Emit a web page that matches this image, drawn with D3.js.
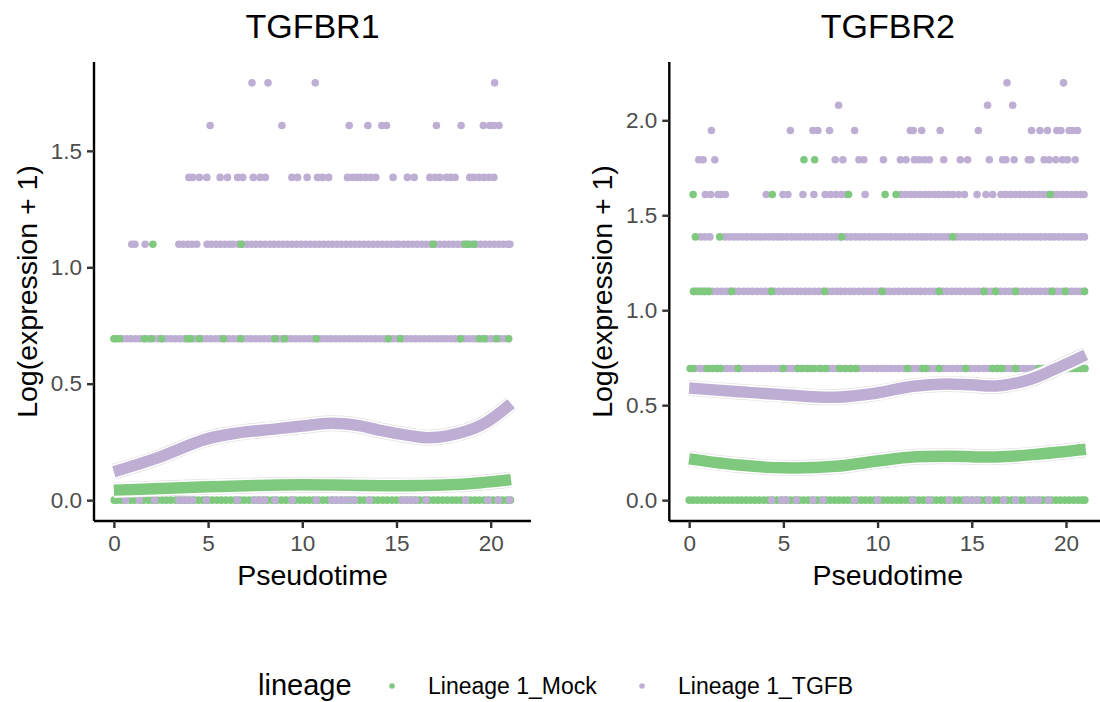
<!DOCTYPE html>
<html><head><meta charset="utf-8">
<script src="https://cdn.jsdelivr.net/npm/d3@7"></script>
<style>body{margin:0;background:#fff}svg{display:block}text{font-family:'Liberation Sans',Arial,Helvetica,sans-serif}</style>
</head><body><svg id="c" width="1100" height="702"></svg>
<script>
// ---- data ----
const genes = ["TGFBR1", "TGFBR2"];
const lineages = ["Lineage 1_Mock", "Lineage 1_TGFB"];
const levels = [0, 0.693, 1.099, 1.386, 1.609, 1.792, 1.946, 2.079, 2.197];
const xTicks = [0, 5, 10, 15, 20];
const yTicks1 = [0, 0.5, 1.0, 1.5];
const yTicks2 = [0, 0.5, 1.0, 1.5, 2.0];

// TGFBR1 cells (pseudotime by expression level)
const r1MockL0 = [0.02,0.18,0.41,0.63,0.88,1.1,1.37,1.58,1.84,2.05,2.31,2.56,2.79,3.02,3.28,3.51,3.77,4.0,4.26,4.49,4.73,4.98,5.22,5.47,5.71,5.95,6.2,6.44,6.69,6.93,7.18,7.42,7.67,7.91,8.15,8.4,8.64,8.89,9.13,9.38,9.62,9.87,10.11,10.36,10.6,10.85,11.09,11.33,11.58,11.82,12.07,12.31,12.56,12.8,13.05,13.29,13.54,13.78,14.02,14.27,14.51,14.76,15.0,15.25,15.49,15.74,15.98,16.22,16.47,16.71,16.96,17.2,17.45,17.69,17.94,18.18,18.42,18.67,18.91,19.16,19.4,19.65,19.89,20.14,20.38,20.62,20.85,21.05];
const r1TgfbL0 = [0.62,1.35,2.17,3.45,3.68,3.92,4.17,4.9,6.55,7.46,7.72,8.0,8.55,9.46,10.74,11.56,11.8,12.08,12.4,12.74,13.56,15.3,15.55,15.8,16.02,16.57,18.67,19.85,20.4,21.0];
const r1TgfbL1 = [0.45,0.68,0.9,1.15,1.38,1.62,1.85,2.1,2.33,2.57,2.8,3.04,3.27,3.51,3.75,3.98,4.22,4.45,4.69,4.92,5.16,5.4,5.63,5.87,6.1,6.34,6.57,6.81,7.05,7.28,7.52,7.75,7.99,8.22,8.46,8.7,8.93,9.17,9.4,9.64,9.87,10.11,10.35,10.58,10.82,11.05,11.29,11.52,11.76,12.0,12.23,12.47,12.7,12.94,13.17,13.41,13.65,13.88,14.12,14.35,14.59,14.82,15.06,15.3,15.53,15.77,16.0,16.24,16.47,16.71,16.95,17.18,17.42,17.65,17.89,18.12,18.36,18.6,18.83,19.07,19.3,19.54,19.77,20.01,20.25,20.48,20.72,20.95];
const r1MockL1 = [0.0,0.12,0.3,1.62,1.99,2.53,3.9,4.08,4.54,5.82,6.73,8.55,9.06,10.74,14.57,15.2,18.4,19.4,19.67,20.31,20.95];
const r1TgfbL2 = [0.95,1.12,1.66,3.45,3.68,3.92,4.15,4.4,4.95,5.18,5.42,5.65,5.88,6.12,6.32,6.6,6.84,7.06,7.3,7.54,7.78,8.02,8.28,8.5,8.74,8.98,9.22,9.46,9.7,9.94,10.18,10.42,10.66,10.9,11.14,11.38,11.6,11.84,12.08,12.32,12.56,12.8,13.04,13.28,13.52,13.76,14.0,14.24,14.48,14.72,14.96,15.12,15.38,15.62,15.86,16.1,16.34,16.58,16.82,17.06,17.3,17.54,17.78,18.02,18.26,18.5,18.74,18.98,19.22,19.46,19.7,19.94,20.18,20.42,20.66,20.9,21.02];
const r1MockL2 = [2.07,6.75,16.94,18.64,18.81,19.11];
const r1TgfbL3 = [3.98,4.19,4.54,4.93,5.64,6.03,6.57,6.84,7.4,7.76,8.04,9.45,9.75,10.26,10.81,11.08,11.4,12.4,12.67,12.9,13.11,13.37,13.64,13.9,14.82,15.58,15.94,16.77,17.05,17.3,17.65,17.88,18.11,18.89,19.11,19.38,19.65,19.91,20.17];
const r1TgfbL4 = [5.11,8.92,12.49,13.48,14.22,14.47,17.12,18.43,19.61,19.95,20.15,20.44];
const r1TgfbL5 = [7.33,8.18,10.69,20.21];

// TGFBR2 cells
const r2MockL0 = [0.0,0.21,0.44,0.68,0.9,1.14,1.37,1.61,1.84,2.08,2.31,2.55,2.78,3.02,3.25,3.49,3.72,3.96,4.19,4.43,4.66,4.9,5.13,5.37,5.6,5.84,6.07,6.31,6.54,6.78,7.01,7.25,7.48,7.72,7.95,8.19,8.42,8.66,8.89,9.13,9.36,9.6,9.83,10.07,10.3,10.54,10.77,11.01,11.24,11.48,11.71,11.95,12.18,12.42,12.65,12.89,13.12,13.36,13.59,13.83,14.06,14.3,14.53,14.77,15.0,15.24,15.47,15.71,15.94,16.18,16.41,16.65,16.88,17.12,17.35,17.59,17.82,18.06,18.29,18.53,18.76,19.0,19.23,19.47,19.7,19.94,20.17,20.41,20.64,20.85,21.0];
const r2TgfbL0 = [4.37,4.9,5.15,5.69,6.57,7.1,8.78,10.0,11.86,12.74,13.8,14.68,15.0,15.3,15.9,16.7,17.32,18.03,18.3,18.55,19.08];
const r2TgfbL1 = [0.3,0.55,0.78,1.02,1.25,1.49,1.72,1.96,2.2,2.43,2.67,2.9,3.14,3.37,3.61,3.85,4.08,4.32,4.55,4.79,5.02,5.26,5.5,5.73,5.97,6.2,6.44,6.67,6.91,7.15,7.38,7.62,7.85,8.09,8.32,8.56,8.8,9.03,9.27,9.5,9.74,9.97,10.21,10.45,10.68,10.92,11.15,11.39,11.62,11.86,12.1,12.33,12.57,12.8,13.04,13.27,13.51,13.75,13.98,14.22,14.45,14.69,14.92,15.16,15.4,15.63,15.87,16.1,16.34,16.57,16.81,17.05,17.28,17.52,17.75,17.99,18.22,18.46,18.7,18.93,19.17,19.4,19.64,19.87,20.11,20.35,20.58,20.82,21.0];
const r2MockL1 = [0.05,0.2,0.95,1.2,1.45,1.65,2.6,4.99,5.78,6.0,6.3,6.6,6.95,7.25,7.98,8.3,8.55,8.86,11.6,12.4,12.56,13.27,14.68,16.1,16.35,16.6,17.32,18.55,18.8,19.05,19.3,19.55,19.8,20.05,20.3,20.55,20.8,21.0];
const r2TgfbL2 = [0.3,0.54,0.77,1.01,1.24,1.48,1.71,1.95,2.18,2.42,2.65,2.89,3.12,3.36,3.59,3.83,4.06,4.3,4.53,4.77,5.0,5.24,5.47,5.71,5.94,6.18,6.41,6.65,6.88,7.12,7.35,7.59,7.82,8.06,8.29,8.53,8.76,9.0,9.23,9.47,9.7,9.94,10.17,10.41,10.64,10.88,11.11,11.35,11.58,11.82,12.05,12.29,12.52,12.76,12.99,13.23,13.46,13.7,13.93,14.17,14.4,14.64,14.87,15.11,15.34,15.58,15.81,16.05,16.28,16.52,16.75,16.99,17.22,17.46,17.69,17.93,18.16,18.4,18.63,18.87,19.1,19.34,19.57,19.81,20.04,20.28,20.51,20.75,20.98];
const r2MockL2 = [0.23,0.42,0.62,0.85,1.05,2.26,4.37,7.19,10.24,13.27,15.65,16.26,17.32,19.26,19.96,20.98];
const r2TgfbL3 = [0.62,0.85,1.1,1.9,2.13,2.37,2.6,2.84,3.07,3.31,3.54,3.78,4.01,4.25,4.48,4.72,4.95,5.19,5.42,5.66,5.89,6.13,6.36,6.6,6.83,7.07,7.3,7.54,7.77,8.01,8.36,8.6,8.83,9.07,9.3,9.54,9.77,10.01,10.24,10.48,10.71,10.95,11.18,11.42,11.65,11.89,12.12,12.36,12.59,12.83,13.06,13.3,13.53,13.77,14.2,14.44,14.67,14.91,15.14,15.38,15.61,15.85,16.08,16.32,16.55,16.79,17.02,17.26,17.49,17.73,17.96,18.2,18.43,18.67,18.9,19.14,19.37,19.61,19.84,20.08,20.31,20.55,20.78,20.98];
const r2MockL3 = [0.33,1.62,8.1,13.99];
const r2TgfbL4 = [0.86,1.14,1.53,1.71,1.92,4.09,4.98,5.24,6.04,6.62,7.22,7.5,7.78,8.07,8.34,9.34,11.25,11.5,11.75,12.0,12.25,12.5,12.75,13.0,13.25,13.5,13.75,14.0,14.3,14.61,15.28,15.75,16.11,16.55,16.8,17.05,17.3,17.55,17.8,18.05,18.3,18.55,18.8,19.05,19.3,19.55,19.8,20.05,20.3,20.55,20.8,20.96];
const r2MockL4 = [0.21,4.41,8.46,10.4,10.98,19.16];
const r2TgfbL5 = [0.51,0.74,1.36,7.75,8.16,9.01,9.27,10.31,11.21,11.51,11.96,12.22,12.49,12.75,13.51,14.39,14.78,15.93,16.64,16.81,17.25,18.0,18.14,18.84,19.11,19.46,19.82,20.08,20.49];
const r2MockL5 = [6.09,6.66];
const r2TgfbL6 = [1.18,5.37,6.57,6.83,7.45,8.78,11.74,11.89,12.34,13.32,15.35,18.17,18.62,19.02,19.52,19.73,20.17,20.35,20.61];
const r2TgfbL7 = [7.93,15.84,17.17];
const r2TgfbL8 = [16.87,19.87];

// fitted smoothers [pseudotime, log(expression+1)]
const r1MockSmooth = [[0,0.043],[2.5,0.05],[5,0.057],[7.5,0.063],[10,0.066],[12.5,0.064],[15,0.062],[17.5,0.065],[19.5,0.075],[21.08,0.088]];
const r1TgfbSmooth = [[0,0.122],[2.2,0.178],[4.9,0.262],[6.7,0.29],[8.5,0.305],[10,0.318],[11.5,0.33],[13,0.32],[14,0.302],[15.8,0.276],[16.6,0.268],[17.7,0.276],[19.5,0.322],[21.08,0.415]];
const r2MockSmooth = [[0,0.217],[2.5,0.186],[5,0.17],[7.8,0.178],[9.9,0.205],[12,0.228],[14,0.231],[16.3,0.227],[18.5,0.242],[21.05,0.268]];
const r2TgfbSmooth = [[0,0.59],[2.5,0.572],[5,0.555],[7.8,0.542],[9.9,0.563],[11.9,0.6],[13.6,0.612],[15,0.607],[16.3,0.601],[18,0.633],[19.3,0.685],[21.05,0.765]];

// ---- drawing ----
const colors = {"Lineage 1_Mock": "#7FC97F", "Lineage 1_TGFB": "#BEAED4"};
const M = lineages[0], T = lineages[1];
const panels = [
  { gene: genes[0], x0: 94, x1: 531, yMax: 1.792, yTicks: yTicks1,
    layers: [[M,0,r1MockL0],[T,0,r1TgfbL0],[T,1,r1TgfbL1],[M,1,r1MockL1],[T,2,r1TgfbL2],[M,2,r1MockL2],[T,3,r1TgfbL3],[T,4,r1TgfbL4],[T,5,r1TgfbL5]],
    smooth: [[M,r1MockSmooth],[T,r1TgfbSmooth]] },
  { gene: genes[1], x0: 669.3, x1: 1106.3, yMax: 2.197, yTicks: yTicks2,
    layers: [[M,0,r2MockL0],[T,0,r2TgfbL0],[T,1,r2TgfbL1],[M,1,r2MockL1],[T,2,r2TgfbL2],[M,2,r2MockL2],[T,3,r2TgfbL3],[M,3,r2MockL3],[T,4,r2TgfbL4],[M,4,r2MockL4],[T,5,r2TgfbL5],[M,5,r2MockL5],[T,6,r2TgfbL6],[T,7,r2TgfbL7],[T,8,r2TgfbL8]],
    smooth: [[M,r2MockSmooth],[T,r2TgfbSmooth]] }
];

const svg = d3.select("#c");
const yTop = 62, yBot = 521;
const xDomain = [-1.055, 22.14];

panels.forEach(p => {
  const x = d3.scaleLinear().domain(xDomain).range([p.x0, p.x1]);
  const pad = p.yMax * 0.05;
  const y = d3.scaleLinear().domain([-pad, p.yMax + pad]).range([yBot, yTop]);
  const g = svg.append("g");

  // points
  p.layers.forEach(([lin, lvl, xs]) => {
    g.append("g").selectAll("circle").data(xs).join("circle")
      .attr("cx", d => x(d)).attr("cy", y(levels[lvl])).attr("r", 3.8)
      .attr("fill", colors[lin]);
  });

  // smoothers
  const line = d3.line().x(d => x(d[0])).y(d => y(d[1])).curve(d3.curveCatmullRom.alpha(0.5));
  p.smooth.forEach(([lin, pts]) => {
    g.append("path").attr("d", line(pts)).attr("fill","none").attr("stroke","#e2e2e2").attr("stroke-width",16);
    g.append("path").attr("d", line(pts)).attr("fill","none").attr("stroke","#ffffff").attr("stroke-width",14.6);
    g.append("path").attr("d", line(pts)).attr("fill","none").attr("stroke",colors[lin]).attr("stroke-width",11.5);
  });

  // axes
  const ax = g.append("g").attr("transform", `translate(0,${yBot})`)
    .call(d3.axisBottom(x).tickValues(xTicks).tickSize(7).tickSizeOuter(0).tickPadding(5));
  const ay = g.append("g").attr("transform", `translate(${p.x0},0)`)
    .call(d3.axisLeft(y).tickValues(p.yTicks).tickFormat(d3.format(".1f")).tickSize(7).tickSizeOuter(0).tickPadding(5));
  [ax, ay].forEach(a => {
    a.select(".domain").attr("stroke", "#000").attr("stroke-width", 2.4);
    a.selectAll(".tick line").attr("stroke", "#333").attr("stroke-width", 2.4);
    a.selectAll(".tick text").attr("fill", "#4D4D4D").style("font-size", "22.5px");
  });
  ax.selectAll(".tick text").attr("dy", "0.78em");
  ax.select(".domain").attr("d", `M${p.x0},0H${p.x1}`);
  ay.select(".domain").attr("d", `M0,${yBot}V${yTop}`);

  const cx = (p.x0 + p.x1) / 2;
  g.append("text").attr("x", cx).attr("y", 38).attr("text-anchor","middle")
    .style("font-size","34px").attr("fill","#000").text(p.gene);
  g.append("text").attr("x", cx).attr("y", 585).attr("text-anchor","middle")
    .style("font-size","28.5px").attr("fill","#000").text("Pseudotime");
  g.append("text").attr("transform", `translate(${p.x0 - 57},${(yTop + yBot) / 2}) rotate(-90)`)
    .attr("text-anchor","middle").style("font-size","28.5px").attr("fill","#000").text("Log(expression + 1)");
});

// legend
const lg = svg.append("g");
lg.append("text").attr("x", 258).attr("y", 695).style("font-size","29px").attr("fill","#000").text("lineage");
const legX = [392, 642];
lineages.forEach((l, i) => {
  lg.append("circle").attr("cx", legX[i]).attr("cy", 686).attr("r", 2.8).attr("fill", colors[l]);
  lg.append("text").attr("x", legX[i] + 36).attr("y", 694).style("font-size","23px").attr("fill","#000").text(l);
});
</script></body></html>
